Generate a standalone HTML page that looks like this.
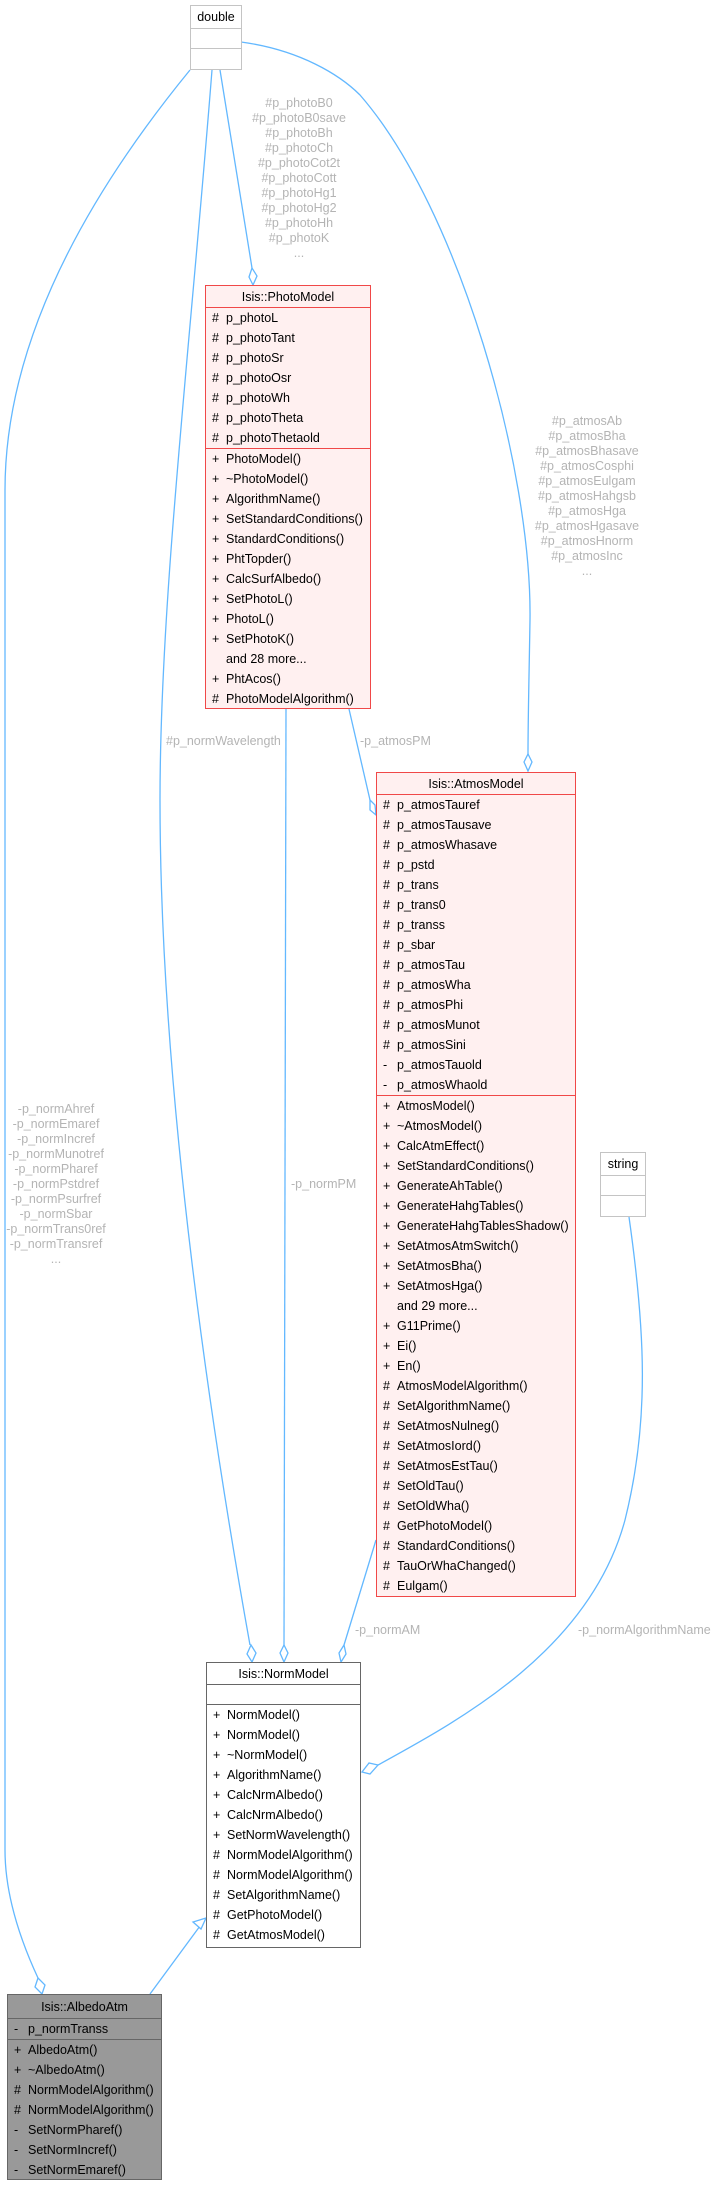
<!DOCTYPE html>
<html><head><meta charset="utf-8"><style>
body{margin:0;width:717px;height:2186px;background:#fff;position:relative;overflow:hidden;font-family:"Liberation Sans",sans-serif;}
.box{position:absolute;box-sizing:border-box;font-size:12.5px;color:#000;}
.t{height:22px;line-height:22px;text-align:center;box-sizing:border-box;}
.sec{box-sizing:border-box;}
.r{height:20px;line-height:20px;position:relative;white-space:nowrap;}
.r b{font-weight:normal;position:absolute;left:6px;}
.r span{position:absolute;left:20px;}
.red{background:#fff0f0;border:1.5px solid #f04848;}
.red .t,.red .sec{border-bottom:1.5px solid #f04848;}
.gray{background:#999;border:1.5px solid #666;}
.gray .t,.gray .sec{border-bottom:1.5px solid #666;}
.wh{background:#fff;border:1.5px solid #666;}
.wh .t,.wh .sec{border-bottom:1.5px solid #666;}
.lt{background:#fff;border:1.5px solid #c4c4c4;}
.lt .t,.lt .sec{border-bottom:1.5px solid #c4c4c4;}
.sec.last{border-bottom:none!important;}
.lbl{position:absolute;color:#b4b4b4;font-size:12.5px;text-align:center;line-height:15px;white-space:nowrap;}
svg{position:absolute;left:0;top:0;}
</style></head><body>
<svg width="717" height="2186" fill="none" stroke="#63b8ff" stroke-width="1.3">
<path d="M190,70 C100,180 5,330 5,490 L5,1850 C5,1900 25,1950 38,1978"/>
<polygon points="42,1994 45,1985 38,1978 35,1987" fill="#fff"/>
<path d="M212,70 C190,350 160,600 160,800 C160,1100 215,1450 250,1645"/>
<polygon points="252,1662 256,1653 251,1645 247,1654" fill="#fff"/>
<path d="M220,70 L252,268"/>
<polygon points="253,285 257,276 252,268 249,277" fill="#fff"/>
<path d="M286,709 L284,1645"/>
<polygon points="284,1662 288,1653 284,1645 280,1653" fill="#fff"/>
<path d="M349,709 L370,800"/>
<polygon points="376,815 375,805 370,800 370,810" fill="#fff"/>
<path d="M241,42 C300,50 340,75 360,95 C460,210 532,470 530,620 C529,680 528,720 528,754"/>
<polygon points="528,771 532,762 528,754 524,762" fill="#fff"/>
<path d="M376,1540 L344,1645"/>
<polygon points="341,1662 346,1654 344,1645 339,1653" fill="#fff"/>
<path d="M629,1217 C645,1330 650,1420 625,1520 C590,1650 460,1720 378,1765"/>
<polygon points="362,1772 370,1774 378,1765 369,1763" fill="#fff"/>
<path d="M150,1994 L200,1926"/>
<polygon points="206,1918 193,1922 201,1929" fill="#fff"/>
</svg>

<div class="box lt" style="left:190px;top:5px;width:52px;height:65px;">
<div class="t" style="height:23px;line-height:23px">double</div><div class="sec" style="height:20px"></div><div class="sec last"></div></div>

<div class="box lt" style="left:600px;top:1152px;width:46px;height:65px;">
<div class="t" style="height:23px;line-height:23px">string</div><div class="sec" style="height:20px"></div><div class="sec last"></div></div>

<div class="lbl" style="left:239px;top:96px;width:120px;">#p_photoB0<br>#p_photoB0save<br>#p_photoBh<br>#p_photoCh<br>#p_photoCot2t<br>#p_photoCott<br>#p_photoHg1<br>#p_photoHg2<br>#p_photoHh<br>#p_photoK<br>...</div>
<div class="lbl" style="left:527px;top:414px;width:120px;">#p_atmosAb<br>#p_atmosBha<br>#p_atmosBhasave<br>#p_atmosCosphi<br>#p_atmosEulgam<br>#p_atmosHahgsb<br>#p_atmosHga<br>#p_atmosHgasave<br>#p_atmosHnorm<br>#p_atmosInc<br>...</div>
<div class="lbl" style="left:-4px;top:1102px;width:120px;">-p_normAhref<br>-p_normEmaref<br>-p_normIncref<br>-p_normMunotref<br>-p_normPharef<br>-p_normPstdref<br>-p_normPsurfref<br>-p_normSbar<br>-p_normTrans0ref<br>-p_normTransref<br>...</div>
<div class="lbl" style="left:166px;top:734px;">#p_normWavelength</div>
<div class="lbl" style="left:360px;top:734px;">-p_atmosPM</div>
<div class="lbl" style="left:291px;top:1177px;">-p_normPM</div>
<div class="lbl" style="left:355px;top:1623px;">-p_normAM</div>
<div class="lbl" style="left:578px;top:1623px;">-p_normAlgorithmName</div>

<div class="box red" style="left:205px;top:285px;width:166px;height:424px;">
<div class="t">Isis::PhotoModel</div>
<div class="sec">
<div class="r"><b>#</b><span>p_photoL</span></div><div class="r"><b>#</b><span>p_photoTant</span></div><div class="r"><b>#</b><span>p_photoSr</span></div><div class="r"><b>#</b><span>p_photoOsr</span></div><div class="r"><b>#</b><span>p_photoWh</span></div><div class="r"><b>#</b><span>p_photoTheta</span></div><div class="r"><b>#</b><span>p_photoThetaold</span></div></div>
<div class="sec last">
<div class="r"><b>+</b><span>PhotoModel()</span></div><div class="r"><b>+</b><span>~PhotoModel()</span></div><div class="r"><b>+</b><span>AlgorithmName()</span></div><div class="r"><b>+</b><span>SetStandardConditions()</span></div><div class="r"><b>+</b><span>StandardConditions()</span></div><div class="r"><b>+</b><span>PhtTopder()</span></div><div class="r"><b>+</b><span>CalcSurfAlbedo()</span></div><div class="r"><b>+</b><span>SetPhotoL()</span></div><div class="r"><b>+</b><span>PhotoL()</span></div><div class="r"><b>+</b><span>SetPhotoK()</span></div><div class="r"><span>and 28 more...</span></div><div class="r"><b>+</b><span>PhtAcos()</span></div><div class="r"><b>#</b><span>PhotoModelAlgorithm()</span></div></div>
</div>

<div class="box red" style="left:376px;top:772px;width:200px;height:825px;">
<div class="t">Isis::AtmosModel</div>
<div class="sec">
<div class="r"><b>#</b><span>p_atmosTauref</span></div><div class="r"><b>#</b><span>p_atmosTausave</span></div><div class="r"><b>#</b><span>p_atmosWhasave</span></div><div class="r"><b>#</b><span>p_pstd</span></div><div class="r"><b>#</b><span>p_trans</span></div><div class="r"><b>#</b><span>p_trans0</span></div><div class="r"><b>#</b><span>p_transs</span></div><div class="r"><b>#</b><span>p_sbar</span></div><div class="r"><b>#</b><span>p_atmosTau</span></div><div class="r"><b>#</b><span>p_atmosWha</span></div><div class="r"><b>#</b><span>p_atmosPhi</span></div><div class="r"><b>#</b><span>p_atmosMunot</span></div><div class="r"><b>#</b><span>p_atmosSini</span></div><div class="r"><b>-</b><span>p_atmosTauold</span></div><div class="r"><b>-</b><span>p_atmosWhaold</span></div></div>
<div class="sec last">
<div class="r"><b>+</b><span>AtmosModel()</span></div><div class="r"><b>+</b><span>~AtmosModel()</span></div><div class="r"><b>+</b><span>CalcAtmEffect()</span></div><div class="r"><b>+</b><span>SetStandardConditions()</span></div><div class="r"><b>+</b><span>GenerateAhTable()</span></div><div class="r"><b>+</b><span>GenerateHahgTables()</span></div><div class="r"><b>+</b><span>GenerateHahgTablesShadow()</span></div><div class="r"><b>+</b><span>SetAtmosAtmSwitch()</span></div><div class="r"><b>+</b><span>SetAtmosBha()</span></div><div class="r"><b>+</b><span>SetAtmosHga()</span></div><div class="r"><span>and 29 more...</span></div><div class="r"><b>+</b><span>G11Prime()</span></div><div class="r"><b>+</b><span>Ei()</span></div><div class="r"><b>+</b><span>En()</span></div><div class="r"><b>#</b><span>AtmosModelAlgorithm()</span></div><div class="r"><b>#</b><span>SetAlgorithmName()</span></div><div class="r"><b>#</b><span>SetAtmosNulneg()</span></div><div class="r"><b>#</b><span>SetAtmosIord()</span></div><div class="r"><b>#</b><span>SetAtmosEstTau()</span></div><div class="r"><b>#</b><span>SetOldTau()</span></div><div class="r"><b>#</b><span>SetOldWha()</span></div><div class="r"><b>#</b><span>GetPhotoModel()</span></div><div class="r"><b>#</b><span>StandardConditions()</span></div><div class="r"><b>#</b><span>TauOrWhaChanged()</span></div><div class="r"><b>#</b><span>Eulgam()</span></div></div>
</div>

<div class="box wh" style="left:206px;top:1662px;width:155px;height:286px;">
<div class="t">Isis::NormModel</div>
<div class="sec" style="height:20px"></div>
<div class="sec last">
<div class="r"><b>+</b><span>NormModel()</span></div><div class="r"><b>+</b><span>NormModel()</span></div><div class="r"><b>+</b><span>~NormModel()</span></div><div class="r"><b>+</b><span>AlgorithmName()</span></div><div class="r"><b>+</b><span>CalcNrmAlbedo()</span></div><div class="r"><b>+</b><span>CalcNrmAlbedo()</span></div><div class="r"><b>+</b><span>SetNormWavelength()</span></div><div class="r"><b>#</b><span>NormModelAlgorithm()</span></div><div class="r"><b>#</b><span>NormModelAlgorithm()</span></div><div class="r"><b>#</b><span>SetAlgorithmName()</span></div><div class="r"><b>#</b><span>GetPhotoModel()</span></div><div class="r"><b>#</b><span>GetAtmosModel()</span></div></div>
</div>

<div class="box gray" style="left:7px;top:1994px;width:155px;height:186px;">
<div class="t" style="height:24px;line-height:24px">Isis::AlbedoAtm</div>
<div class="sec"><div class="r"><b>-</b><span>p_normTranss</span></div></div>
<div class="sec last">
<div class="r"><b>+</b><span>AlbedoAtm()</span></div><div class="r"><b>+</b><span>~AlbedoAtm()</span></div><div class="r"><b>#</b><span>NormModelAlgorithm()</span></div><div class="r"><b>#</b><span>NormModelAlgorithm()</span></div><div class="r"><b>-</b><span>SetNormPharef()</span></div><div class="r"><b>-</b><span>SetNormIncref()</span></div><div class="r"><b>-</b><span>SetNormEmaref()</span></div></div>
</div>
</body></html>
